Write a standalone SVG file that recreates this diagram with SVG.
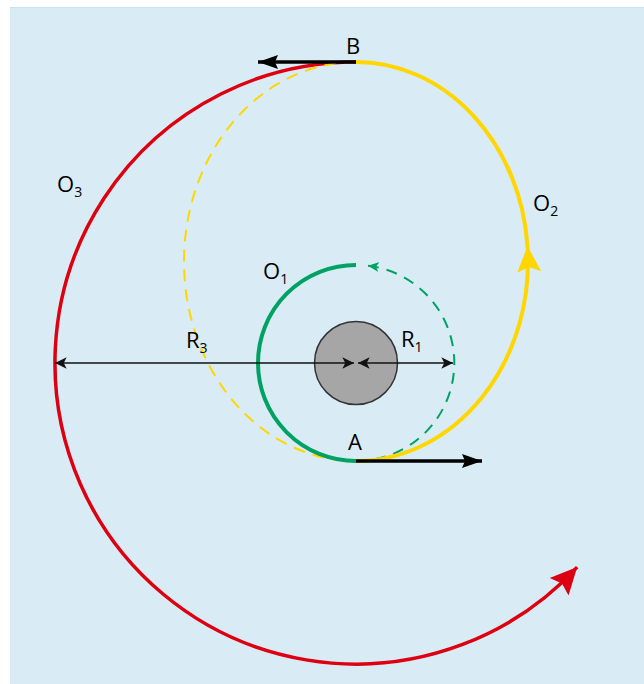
<svg xmlns="http://www.w3.org/2000/svg" width="644" height="684" viewBox="0 0 644 684">
<style>
.lbl{font-family:"Open Sans","Liberation Sans",sans-serif;font-size:22px;fill:#000}
.sub{font-size:14px}
.red{fill:none;stroke:#dd0010;stroke-width:3.5}
.yel{fill:none;stroke:#ffd600;stroke-width:4}
.yeld{fill:none;stroke:#ffd600;stroke-width:2;stroke-dasharray:12 8}
.grn{fill:none;stroke:#00a264;stroke-width:4}
.grnd{fill:none;stroke:#00a264;stroke-width:2;stroke-dasharray:11 8}
.vel{fill:none;stroke:#000;stroke-width:3.5}
.dim{fill:none;stroke:#111;stroke-width:1.6}
</style>
<defs>
<marker id="mRed" markerUnits="userSpaceOnUse" markerWidth="32" markerHeight="32" refX="25" refY="12" orient="auto" viewBox="0 0 30 24">
<path d="M0,0 L25,12 L0,24 L4,12 Z" fill="#dd0010"/>
</marker>
<marker id="mYel" markerUnits="userSpaceOnUse" markerWidth="30" markerHeight="30" refX="26" refY="12" orient="auto" viewBox="0 0 30 24">
<path d="M0,0 L26,12 L0,24 L5,12 Z" fill="#ffd600"/>
</marker>
<marker id="mGrn" markerUnits="userSpaceOnUse" markerWidth="14" markerHeight="14" refX="11" refY="5" orient="auto" viewBox="0 0 14 10">
<path d="M0,0 L11,5 L0,10 L3,5 Z" fill="#00a264"/>
</marker>
<marker id="mVel" markerUnits="userSpaceOnUse" markerWidth="24" markerHeight="20" refX="20" refY="7" orient="auto" viewBox="0 0 24 14">
<path d="M0,0 L20,7 L0,14 L3,7 Z" fill="#000"/>
</marker>
<marker id="mDim" markerUnits="userSpaceOnUse" markerWidth="14" markerHeight="12" refX="10" refY="5" orient="auto-start-reverse" viewBox="0 0 12 10">
<path d="M0,0 L10,5 L0,10 L2.5,5 Z" fill="#111"/>
</marker>
</defs>
<rect x="10" y="7" width="634" height="677" fill="#d9ecf5"/>
<line x1="10" y1="7.5" x2="644" y2="7.5" stroke="#c6e3ef" stroke-width="1"/>

<g id="planet">
<circle cx="356" cy="363" r="41.5" fill="#a6a6a6" stroke="#333" stroke-width="1.5"/>
</g>

<g id="connectors">
<path id="orbit-O3" class="red" d="M356,62 A301,301 0 1 0 577.2,567.1" marker-end="url(#mRed)"/>
<path id="orbit-O2-dashed" class="yeld" d="M356,62 A172,199.5 0 0 0 356,461"/>
<path id="orbit-O1-dashed" class="grnd" d="M356,461 A98,98 0 0 0 368,265.7" marker-end="url(#mGrn)"/>
<path id="orbit-O1" class="grn" d="M356,265 A98,98 0 0 0 356,461"/>
<path id="orbit-O2a" class="yel" d="M356,461 A172,199.5 0 0 0 527.5,246" marker-end="url(#mYel)"/>
<path id="orbit-O2b" class="yel" d="M527.5,246 A172,199.5 0 0 0 356,62"/>
<line id="vA" class="vel" x1="356" y1="461" x2="482" y2="461" marker-end="url(#mVel)"/>
<line id="vB" class="vel" x1="356" y1="62" x2="258" y2="62" marker-end="url(#mVel)"/>
<line id="R3" class="dim" x1="55" y1="363" x2="354" y2="363" marker-start="url(#mDim)" marker-end="url(#mDim)"/>
<line id="R1" class="dim" x1="358" y1="363" x2="453" y2="363" marker-start="url(#mDim)" marker-end="url(#mDim)"/>
</g>

<g id="labels">
<text class="lbl" x="346" y="54">B</text>
<text class="lbl" x="348" y="450">A</text>
<text class="lbl" x="263" y="279">O<tspan class="sub" dy="5">1</tspan></text>
<text class="lbl" x="533" y="211">O<tspan class="sub" dy="5">2</tspan></text>
<text class="lbl" x="57" y="192">O<tspan class="sub" dy="5">3</tspan></text>
<text class="lbl" x="186" y="348">R<tspan class="sub" dy="5">3</tspan></text>
<text class="lbl" x="401" y="347">R<tspan class="sub" dy="5">1</tspan></text>
</g>
</svg>
